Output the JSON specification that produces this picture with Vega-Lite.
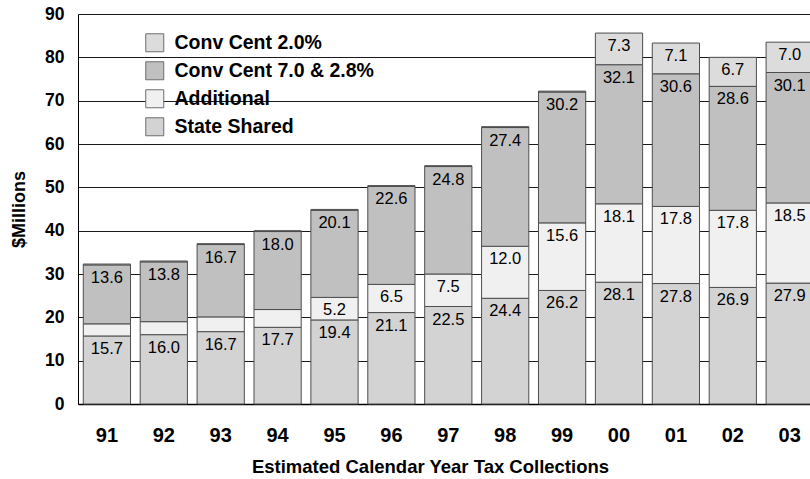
{
  "$schema": "https://vega.github.io/schema/vega-lite/v6.json",
  "autosize": {"type": "none"},
  "padding": {"left": 78, "top": 14, "right": 0, "bottom": 75},
  "width": 732,
  "height": 390,
  "background": "white",
  "config": {
    "font": "Liberation Sans",
    "view": {"stroke": null},
    "axis": {"labelFont": "Liberation Sans", "titleFont": "Liberation Sans", "labelColor": "black", "titleColor": "black"}
  },
  "data": {
    "values": [
      {"year": "91", "series": "State Shared", "value": 15.7},
      {"year": "91", "series": "Additional", "value": 2.8},
      {"year": "91", "series": "Conv Cent 7.0 & 2.8%", "value": 13.6},
      {"year": "91", "series": "Conv Cent 2.0%", "value": 0.2},
      {"year": "92", "series": "State Shared", "value": 16.0},
      {"year": "92", "series": "Additional", "value": 3.0},
      {"year": "92", "series": "Conv Cent 7.0 & 2.8%", "value": 13.8},
      {"year": "92", "series": "Conv Cent 2.0%", "value": 0.2},
      {"year": "93", "series": "State Shared", "value": 16.7},
      {"year": "93", "series": "Additional", "value": 3.4},
      {"year": "93", "series": "Conv Cent 7.0 & 2.8%", "value": 16.7},
      {"year": "93", "series": "Conv Cent 2.0%", "value": 0.2},
      {"year": "94", "series": "State Shared", "value": 17.7},
      {"year": "94", "series": "Additional", "value": 4.1},
      {"year": "94", "series": "Conv Cent 7.0 & 2.8%", "value": 18.0},
      {"year": "94", "series": "Conv Cent 2.0%", "value": 0.2},
      {"year": "95", "series": "State Shared", "value": 19.4},
      {"year": "95", "series": "Additional", "value": 5.2},
      {"year": "95", "series": "Conv Cent 7.0 & 2.8%", "value": 20.1},
      {"year": "95", "series": "Conv Cent 2.0%", "value": 0.2},
      {"year": "96", "series": "State Shared", "value": 21.1},
      {"year": "96", "series": "Additional", "value": 6.5},
      {"year": "96", "series": "Conv Cent 7.0 & 2.8%", "value": 22.6},
      {"year": "96", "series": "Conv Cent 2.0%", "value": 0.2},
      {"year": "97", "series": "State Shared", "value": 22.5},
      {"year": "97", "series": "Additional", "value": 7.5},
      {"year": "97", "series": "Conv Cent 7.0 & 2.8%", "value": 24.8},
      {"year": "97", "series": "Conv Cent 2.0%", "value": 0.2},
      {"year": "98", "series": "State Shared", "value": 24.4},
      {"year": "98", "series": "Additional", "value": 12.0},
      {"year": "98", "series": "Conv Cent 7.0 & 2.8%", "value": 27.4},
      {"year": "98", "series": "Conv Cent 2.0%", "value": 0.2},
      {"year": "99", "series": "State Shared", "value": 26.2},
      {"year": "99", "series": "Additional", "value": 15.6},
      {"year": "99", "series": "Conv Cent 7.0 & 2.8%", "value": 30.2},
      {"year": "99", "series": "Conv Cent 2.0%", "value": 0.2},
      {"year": "00", "series": "State Shared", "value": 28.1},
      {"year": "00", "series": "Additional", "value": 18.1},
      {"year": "00", "series": "Conv Cent 7.0 & 2.8%", "value": 32.1},
      {"year": "00", "series": "Conv Cent 2.0%", "value": 7.3},
      {"year": "01", "series": "State Shared", "value": 27.8},
      {"year": "01", "series": "Additional", "value": 17.8},
      {"year": "01", "series": "Conv Cent 7.0 & 2.8%", "value": 30.6},
      {"year": "01", "series": "Conv Cent 2.0%", "value": 7.1},
      {"year": "02", "series": "State Shared", "value": 26.9},
      {"year": "02", "series": "Additional", "value": 17.8},
      {"year": "02", "series": "Conv Cent 7.0 & 2.8%", "value": 28.6},
      {"year": "02", "series": "Conv Cent 2.0%", "value": 6.7},
      {"year": "03", "series": "State Shared", "value": 27.9},
      {"year": "03", "series": "Additional", "value": 18.5},
      {"year": "03", "series": "Conv Cent 7.0 & 2.8%", "value": 30.1},
      {"year": "03", "series": "Conv Cent 2.0%", "value": 7.0}
    ]
  },
  "transform": [
    {"calculate": "indexof(['State Shared', 'Additional', 'Conv Cent 7.0 & 2.8%', 'Conv Cent 2.0%'], datum.series)", "as": "tier"},
    {"stack": "value", "groupby": ["year"], "sort": [{"field": "tier", "order": "ascending"}], "as": ["v0", "v1"]}
  ],
  "encoding": {
    "x": {
      "field": "year",
      "type": "nominal",
      "sort": null,
      "scale": {
        "domain": ["91", "92", "93", "94", "95", "96", "97", "98", "99", "00", "01", "02", "03"],
        "range": [0, 740.6],
        "paddingInner": 0.17,
        "paddingOuter": 0.093
      },
      "axis": {
        "title": "Estimated Calendar Year Tax Collections",
        "titleFontSize": 18.5,
        "titleFontWeight": "bold",
        "titleX": 352,
        "titleY": 62,
        "titleBaseline": "middle",
        "labelAngle": 0,
        "labelFontSize": 20,
        "labelFontWeight": "bold",
        "labelBaseline": "middle",
        "labelPadding": 31,
        "ticks": false,
        "tickSize": 0,
        "domainColor": "black",
        "domainWidth": 1.5,
        "grid": false
      }
    },
    "y": {
      "field": "v1",
      "type": "quantitative",
      "scale": {"domain": [0, 90], "nice": false},
      "axis": {
        "title": "$Millions",
        "titleFontSize": 18,
        "titleFontWeight": "bold",
        "titleX": -59,
        "titleY": 195,
        "titleBaseline": "middle",
        "titleAngle": 270,
        "values": [0, 10, 20, 30, 40, 50, 60, 70, 80, 90],
        "labelFontSize": 17.5,
        "labelFontWeight": "bold",
        "labelPadding": 14,
        "ticks": false,
        "tickSize": 0,
        "domainColor": "black",
        "domainWidth": 1,
        "grid": true,
        "gridColor": "#1a1a1a",
        "gridWidth": 1,
        "gridOpacity": 1
      }
    }
  },
  "layer": [
    {
      "mark": {"type": "bar", "stroke": "#4d4d4d", "strokeWidth": 1, "opacity": 1},
      "encoding": {
        "y2": {"field": "v0"},
        "color": {
          "field": "series",
          "type": "nominal",
          "scale": {
            "domain": ["Conv Cent 2.0%", "Conv Cent 7.0 & 2.8%", "Additional", "State Shared"],
            "range": ["#dcdcdc", "#c0c0c0", "#f0f0f0", "#d3d3d3"]
          },
          "legend": {
            "orient": "none",
            "legendX": 67,
            "legendY": 19,
            "title": null,
            "symbolType": "square",
            "symbolSize": 324,
            "symbolStrokeColor": "#6e6e6e",
            "symbolStrokeWidth": 1,
            "symbolOpacity": 1,
            "labelFont": "Liberation Sans",
            "labelFontSize": 19.5,
            "labelFontWeight": "bold",
            "labelColor": "black",
            "labelOffset": 10,
            "rowPadding": 5,
            "labelLimit": 400
          }
        }
      }
    },
    {
      "transform": [{"filter": "datum.value >= 5"}],
      "mark": {"type": "text", "baseline": "middle", "align": "center", "dy": 13, "fontSize": 16.5, "font": "Liberation Sans", "color": "black"},
      "encoding": {
        "text": {"field": "value", "type": "quantitative", "format": ".1f"}
      }
    }
  ]
}
